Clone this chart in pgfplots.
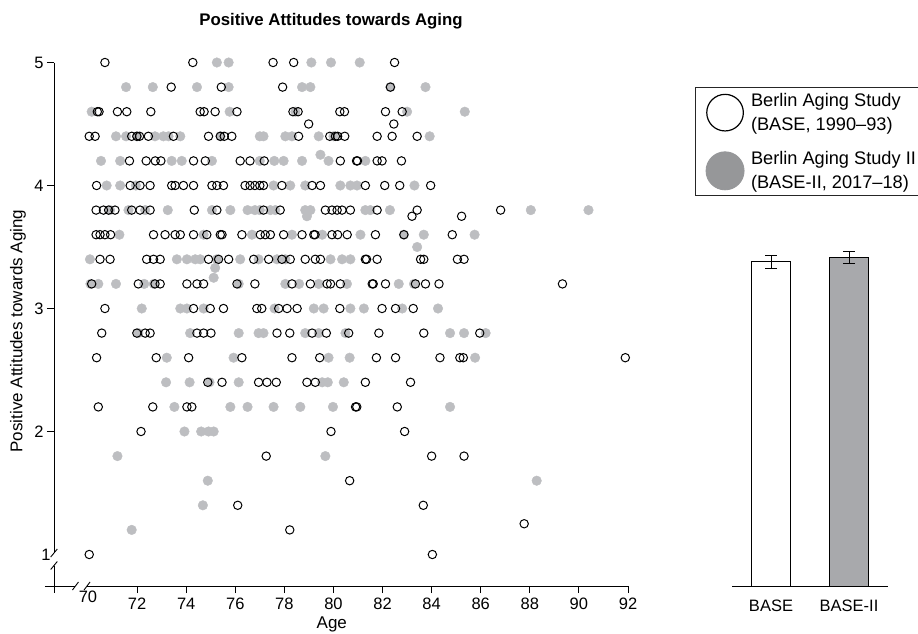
\documentclass[border=0pt]{standalone}
\usepackage{fontspec}
\setmainfont{Liberation Sans}
\usepackage{pgfplots}
\usepackage{pgfplotstable}
\pgfplotsset{compat=1.18}
\definecolor{ltgray}{RGB}{189,190,193}
\definecolor{bargray}{RGB}{168,169,172}
\definecolor{leggray}{RGB}{150,151,153}

\pgfplotstableread[row sep=\\]{
x y\\
70.69 5\\74.27 5\\77.54 5\\78.38 5\\82.49 5\\
73.39 4.8\\75.43 4.8\\77.93 4.8\\82.32 4.8\\
70.38 4.6\\70.45 4.6\\71.2 4.6\\71.58 4.6\\72.56 4.6\\74.57 4.6\\74.73 4.6\\75.18 4.6\\76.07 4.6\\78.35 4.6\\78.56 4.6\\80.26 4.6\\80.45 4.6\\82.12 4.6\\82.8 4.6\\
78.99 4.5\\82.46 4.5\\
70.05 4.4\\70.29 4.4\\71.78 4.4\\71.99 4.4\\72.1 4.4\\72.46 4.4\\73.48 4.4\\74.91 4.4\\75.39 4.4\\75.55 4.4\\75.86 4.4\\78.58 4.4\\79.85 4.4\\80.08 4.4\\80.17 4.4\\80.46 4.4\\81.78 4.4\\82.39 4.4\\83.41 4.4\\
71.69 4.2\\72.37 4.2\\72.74 4.2\\72.97 4.2\\74.3 4.2\\74.78 4.2\\76.2 4.2\\76.6 4.2\\77.18 4.2\\80.28 4.2\\80.94 4.2\\80.98 4.2\\81.78 4.2\\81.98 4.2\\82.77 4.2\\
70.35 4\\71.72 4\\72.12 4\\72.53 4\\73.41 4\\73.55 4\\73.89 4\\74.3 4\\75.05 4\\75.25 4\\75.52 4\\76.4 4\\76.6 4\\76.8 4\\77.0 4\\77.15 4\\77.9 4\\79.13 4\\79.47 4\\81.3 4\\82.09 4\\82.7 4\\83.96 4\\
70.33 3.8\\70.63 3.8\\70.84 3.8\\71.1 3.8\\71.78 3.8\\72.12 3.8\\72.53 3.8\\74.33 3.8\\75.25 3.8\\77.15 3.8\\77.83 3.8\\79.67 3.8\\79.94 3.8\\80.15 3.8\\80.35 3.8\\80.69 3.8\\81.78 3.8\\83.41 3.8\\86.81 3.8\\
83.2 3.75\\85.22 3.75\\
70.33 3.6\\70.49 3.6\\70.69 3.6\\70.92 3.6\\72.67 3.6\\73.14 3.6\\73.55 3.6\\73.76 3.6\\74.3 3.6\\74.84 3.6\\75.39 3.6\\75.46 3.6\\76.27 3.6\\77.02 3.6\\77.22 3.6\\77.43 3.6\\77.97 3.6\\78.72 3.6\\79.2 3.6\\79.25 3.6\\79.94 3.6\\80.17 3.6\\80.56 3.6\\81.71 3.6\\82.87 3.6\\84.84 3.6\\
70.49 3.4\\70.9 3.4\\72.39 3.4\\72.67 3.4\\72.94 3.4\\74.91 3.4\\75.32 3.4\\75.73 3.4\\76.75 3.4\\77.36 3.4\\77.9 3.4\\78.24 3.4\\78.85 3.4\\79.26 3.4\\79.47 3.4\\81.3 3.4\\81.35 3.4\\81.78 3.4\\83.55 3.4\\83.68 3.4\\85.05 3.4\\85.32 3.4\\
70.15 3.2\\72.05 3.2\\72.73 3.2\\72.94 3.2\\74.03 3.2\\74.44 3.2\\74.71 3.2\\76.07 3.2\\76.8 3.2\\78.31 3.2\\79.06 3.2\\79.74 3.2\\79.88 3.2\\80.28 3.2\\81.58 3.2\\81.62 3.2\\82.12 3.2\\83.34 3.2\\83.75 3.2\\84.3 3.2\\89.33 3.2\\
70.69 3\\74.3 3\\74.98 3\\75.52 3\\76.88 3\\77.08 3\\77.77 3\\78.11 3\\78.52 3\\80.26 3\\81.98 3\\82.53 3\\83.25 3\\
70.56 2.8\\71.99 2.8\\72.33 2.8\\72.53 2.8\\74.44 2.8\\74.71 2.8\\75.01 2.8\\77.7 2.8\\78.22 2.8\\79.13 2.8\\79.71 2.8\\80.62 2.8\\81.85 2.8\\83.68 2.8\\85.96 2.8\\
70.35 2.6\\72.78 2.6\\74.1 2.6\\76.27 2.6\\78.31 2.6\\79.44 2.6\\81.75 2.6\\82.53 2.6\\84.34 2.6\\85.15 2.6\\85.29 2.6\\91.89 2.6\\
74.88 2.4\\75.46 2.4\\76.95 2.4\\77.29 2.4\\77.67 2.4\\78.92 2.4\\79.26 2.4\\81.3 2.4\\83.14 2.4\\
70.42 2.2\\72.64 2.2\\74.03 2.2\\74.23 2.2\\80.9 2.2\\80.95 2.2\\82.6 2.2\\
72.16 2\\79.9 2\\82.9 2\\
77.26 1.8\\84.0 1.8\\85.32 1.8\\
80.66 1.6\\
76.1 1.4\\83.66 1.4\\
87.77 1.25\\
78.22 1.2\\
70.05 1\\84.03 1\\
}\base

\pgfplotstableread[row sep=\\]{
x y\\
75.25 5\\75.73 5\\79.1 5\\79.9 5\\81.07 5\\
71.55 4.8\\72.64 4.8\\74.44 4.8\\75.73 4.8\\78.72 4.8\\79.06 4.8\\82.32 4.8\\83.75 4.8\\
70.15 4.6\\75.77 4.6\\78.45 4.6\\83.0 4.6\\85.35 4.6\\
71.14 4.4\\71.55 4.4\\72.0 4.4\\72.73 4.4\\73.07 4.4\\73.28 4.4\\73.76 4.4\\75.4 4.4\\77.0 4.4\\77.15 4.4\\78.04 4.4\\78.31 4.4\\79.4 4.4\\80.0 4.4\\83.92 4.4\\
79.47 4.25\\
70.53 4.2\\71.31 4.2\\73.41 4.2\\73.82 4.2\\75.05 4.2\\77.0 4.2\\77.59 4.2\\77.97 4.2\\78.72 4.2\\79.8 4.2\\81.3 4.2\\
70.76 4\\71.31 4\\71.95 4\\77.56 4\\78.24 4\\78.85 4\\80.28 4\\80.69 4\\80.96 4\\83.3 4\\
70.9 3.8\\71.65 3.8\\72.33 3.8\\73.25 3.8\\75.05 3.8\\75.8 3.8\\76.5 3.8\\76.8 3.8\\77.0 3.8\\77.43 3.8\\77.63 3.8\\78.85 3.8\\79.06 3.8\\81.3 3.8\\81.5 3.8\\82.3 3.8\\88.04 3.8\\90.39 3.8\\
78.92 3.75\\
71.28 3.6\\74.71 3.6\\76.68 3.6\\78.31 3.6\\79.54 3.6\\81.1 3.6\\82.87 3.6\\83.68 3.6\\85.75 3.6\\
83.41 3.5\\
70.08 3.4\\73.62 3.4\\74.03 3.4\\74.37 3.4\\74.57 3.4\\75.25 3.4\\76.2 3.4\\76.95 3.4\\77.7 3.4\\78.04 3.4\\79.88 3.4\\80.35 3.4\\80.69 3.4\\
75.18 3.33\\75.12 3.25\\
70.1 3.2\\70.42 3.2\\71.14 3.2\\72.29 3.2\\72.68 3.2\\76.14 3.2\\78.04 3.2\\78.6 3.2\\79.4 3.2\\80.55 3.2\\82.66 3.2\\83.28 3.2\\
72.19 3\\73.76 3\\74.03 3\\74.71 3\\77.6 3\\79.2 3\\79.6 3\\80.69 3\\81.24 3\\82.8 3\\84.26 3\\
72.05 2.8\\74.16 2.8\\76.14 2.8\\76.95 2.8\\77.15 2.8\\78.85 2.8\\79.4 2.8\\80.49 2.8\\84.75 2.8\\85.32 2.8\\86.2 2.8\\
73.21 2.6\\75.93 2.6\\79.8 2.6\\80.66 2.6\\85.77 2.6\\
73.18 2.4\\74.14 2.4\\74.95 2.4\\76.14 2.4\\79.54 2.4\\79.77 2.4\\80.42 2.4\\
73.52 2.2\\75.8 2.2\\76.5 2.2\\77.56 2.2\\78.65 2.2\\79.98 2.2\\84.75 2.2\\
73.93 2\\74.61 2\\74.91 2\\75.12 2\\
71.2 1.8\\79.67 1.8\\
74.88 1.6\\88.28 1.6\\
74.68 1.4\\
71.78 1.2\\
}\baseii

\begin{document}
\begin{tikzpicture}
\path[use as bounding box] (0,0) rectangle (918pt,633pt);
\begin{axis}[
  scale only axis, width=574pt, height=523.5pt,
  at={(54pt,47pt)}, anchor=south west,
  xmin=68.615, xmax=92, ymin=0.7439, ymax=5,
  axis line style={draw=none},
  clip=false,
  xtick={72,74,...,92}, extra x ticks={70}, extra x tick style={major tick length=0pt},
  ytick={2,3,4,5}, extra y ticks={1}, extra y tick style={major tick length=0pt},
  xtick pos=left, ytick pos=left,
  tick align=outside, major tick length=7pt,
  tick style={black, line width=0.9pt},
  /pgf/number format/assume math mode=true,
  every tick label/.append style={font=\fontsize{16.5}{19}\selectfont},
  xticklabel style={yshift=-1.5pt},
  xlabel={Age}, ylabel={Positive Attitudes towards Aging},
  label style={font=\fontsize{17}{20}\selectfont},
  xlabel style={at={(axis description cs:0.484,-0.0735)}, anchor=center},
  ylabel style={at={(axis description cs:-0.0627,0.487)}, anchor=center},
  title={Positive Attitudes towards Aging},
  title style={at={(axis description cs:0.4826,1.068)}, anchor=center, font=\bfseries\fontsize{16.8}{20}\selectfont},
  legend style={at={(axis description cs:1.117,0.953)}, anchor=north west,
    draw=black!85, line width=0.9pt, fill=white,
    font=\fontsize{18.2}{23.5}\selectfont,
    cells={anchor=west, align=left},
    /tikz/every odd column/.append style={column sep=4.5pt},
    inner xsep=10pt, inner ysep=4pt, row sep=16pt},
]
\addlegendimage{legend image code/.code={\draw[black, line width=1.2pt] (19pt,0pt) circle (18.3pt);}}
\addlegendentry{Berlin Aging Study\\(BASE, 1990–93)}
\addlegendimage{legend image code/.code={\fill[leggray] (19pt,0pt) circle (19pt);}}
\addlegendentry{Berlin Aging Study II\\(BASE-II, 2017–18)}

\addplot[only marks, color=ltgray, mark=*, mark size=4.8pt, mark options={draw=ltgray, fill=ltgray, line width=0.4pt}, forget plot] table {\baseii};
\addplot[only marks, color=black, mark=o, mark size=4.2pt, mark options={draw=black, line width=1pt}, forget plot] table {\base};

% axis lines with breaks
\draw[line width=0.9pt] (axis cs:68.615,5) -- (axis cs:68.615,1.0122);
\draw[line width=0.9pt] (axis cs:68.615,0.9106) -- (axis cs:68.615,0.687);
\draw[line width=0.9pt] ([shift={(-3.3pt,-4pt)}]axis cs:68.615,1.0122) -- ([shift={(3.3pt,4pt)}]axis cs:68.615,1.0122);
\draw[line width=0.9pt] ([shift={(-3.3pt,-4pt)}]axis cs:68.615,0.9106) -- ([shift={(3.3pt,4pt)}]axis cs:68.615,0.9106);
\draw[line width=0.9pt] (axis cs:68.248,0.7439) -- (axis cs:69.49,0.7439);
\draw[line width=0.9pt] (axis cs:69.96,0.7439) -- (axis cs:92,0.7439);
\draw[line width=0.9pt] ([shift={(-3pt,-4pt)}]axis cs:69.49,0.7439) -- ([shift={(3pt,4pt)}]axis cs:69.49,0.7439);
\draw[line width=0.9pt] ([shift={(-3pt,-4pt)}]axis cs:69.96,0.7439) -- ([shift={(3pt,4pt)}]axis cs:69.96,0.7439);
\end{axis}

\begin{axis}[
  scale only axis, width=156pt, height=523.5pt,
  at={(732pt,47pt)}, anchor=south west,
  xmin=-0.5, xmax=1.5, ymin=0.7439, ymax=5,
  axis x line*=bottom, hide y axis,
  x axis line style={line width=0.9pt, black},
  xtick={0,1}, xticklabels={BASE,BASE-II},
  major x tick style={draw=none},
  extra x ticks={0.5,1.5}, extra x tick labels={},
  extra x tick style={major tick length=7.7pt, tick align=outside, tick style={line width=0.9pt, black, draw=black}},
  every tick label/.append style={font=\fontsize{16.5}{19}\selectfont},
  xticklabel style={yshift=-10pt},
]
\addplot[ybar, bar width=39pt, bar shift=0pt, fill=white, draw=black, line width=1pt,
  error bars/.cd, y dir=both, y explicit,
  error bar style={line width=1pt, black},
  error mark options={rotate=90, mark size=6pt, line width=1pt, black}]
  coordinates {(0,3.38) +- (0,0.054)};
\addplot[ybar, bar width=39pt, bar shift=0pt, fill=bargray, draw=black, line width=1pt,
  error bars/.cd, y dir=both, y explicit,
  error bar style={line width=1pt, black},
  error mark options={rotate=90, mark size=6pt, line width=1pt, black}]
  coordinates {(1,3.415) +- (0,0.05)};
\end{axis}
\end{tikzpicture}
\end{document}
